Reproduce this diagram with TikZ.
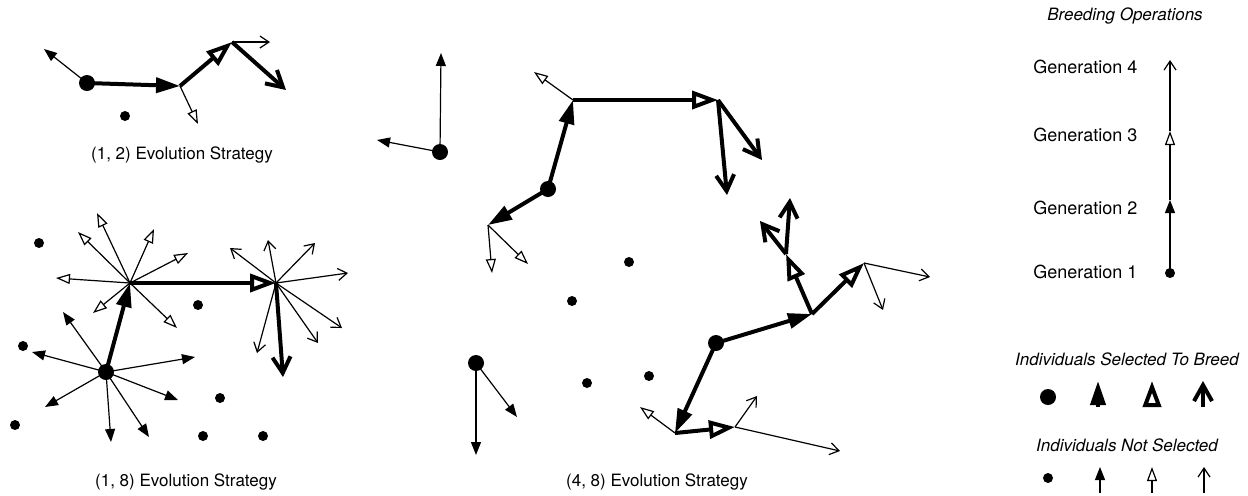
\documentclass[tikz,border=0pt]{standalone}
\usepackage{fontspec}
\setmainfont{TeX Gyre Heros}
\usetikzlibrary{arrows.meta}

\begin{document}
\begin{tikzpicture}[x=0.5pt,y=-0.5pt,%%
  thinFill/.style={-{Triangle[length=6.5pt,width=5pt]},line width=0.6pt},%%
  thinOpen/.style={-{Triangle[open,length=7pt,width=5pt]},line width=0.6pt},%%
  thinBarb/.style={-{Straight Barb[length=4.5pt,width=6pt]},line width=0.6pt},%%
  thickFill/.style={-{Triangle[length=12pt,width=7.5pt]},line width=2pt},%%
  thickOpen/.style={-{Triangle[open,length=13pt,width=9pt]},line width=2pt},%%
  thickBarb/.style={-{Straight Barb[length=8pt,width=9pt]},line width=2pt},%%
  labelStyle/.style={font=\fontsize{8.5}{10}\selectfont},%%
  genStyle/.style={font=\fontsize{9}{11}\selectfont,inner sep=0pt,anchor=west},%%
  titleStyle/.style={font=\fontsize{8.5}{10}\selectfont\itshape}%%
]
%%
\pgfmathsetmacro{\rbig}{8}   %% radius of a selected individual
\pgfmathsetmacro{\rsmall}{5} %% radius of an individual not selected
%%
\useasboundingbox (0,0) rectangle (1248,495);
%%
%% The (1, 2) evolution strategy.
\coordinate (aOne) at (87,83);
\coordinate (aTwo) at (180,86);
\coordinate (aThree) at (232,42);
\coordinate (aLost) at (44,49);
\coordinate (aOpen) at (198,124);
\coordinate (aBarb) at (270,42);
\coordinate (aEnd) at (286,90);
\draw[thinFill] (aOne) -- (aLost);
\draw[thickFill] (aOne) -- (aTwo);
\draw[thinOpen] (aTwo) -- (aOpen);
\draw[thickOpen] (aTwo) -- (aThree);
\draw[thinBarb] (aThree) -- (aBarb);
\draw[thickBarb] (aThree) -- (aEnd);
\fill (aOne) circle[radius=\rbig];
\fill (125,116) circle[radius=\rsmall];
\node[labelStyle] (aLabel) at (182,155) {(1, 2) Evolution Strategy};
%%
%% The (1, 8) evolution strategy.
\coordinate (bOne) at (106,372);
\coordinate (bTwo) at (130,283);
\coordinate (bThree) at (276,283);
\coordinate (bEnd) at (283,377);
%% Children of generation 1.
\foreach \p [count=\i] in {(63,312),(32,352),(195,357),(178,400),(45,407),(111,442),(149,437)}
  {\path \p coordinate (bf\i); \draw[thinFill] (bOne) -- (bf\i);}
%% Children of generation 2.
\foreach \p [count=\i] in {(97,213),(78,232),(154,229),(188,253),(56,278),(93,313),(177,328)}
  {\path \p coordinate (bo\i); \draw[thinOpen] (bTwo) -- (bo\i);}
%% Children of generation 3.
\foreach \p [count=\i] in {(230,248),(268,240),(315,243),(348,273),(342,328),(318,343),(257,353)}
  {\path \p coordinate (bb\i); \draw[thinBarb] (bThree) -- (bb\i);}
\draw[thickFill] (bOne) -- (bTwo);
\draw[thickOpen] (bTwo) -- (bThree);
\draw[thickBarb] (bThree) -- (bEnd);
\fill (bOne) circle[radius=\rbig];
\foreach \p in {(39,243),(23,346),(15,425),(198,305),(220,398),(203,436),(263,436)}
  \fill \p circle[radius=\rsmall];
\node[labelStyle] (bLabel) at (186,482) {(1, 8) Evolution Strategy};
%%
%% The (4, 8) evolution strategy.
%% First parent, with no selected children.
\coordinate (cOne) at (440,152);
\coordinate (cUp) at (441,53);
\coordinate (cLeft) at (377,140);
\draw[thinFill] (cOne) -- (cUp);
\draw[thinFill] (cOne) -- (cLeft);
\fill (cOne) circle[radius=\rbig];
%% Second parent.
\coordinate (dOne) at (548,189);
\coordinate (dTwo) at (573,100);
\coordinate (dSide) at (488,225);
\coordinate (dThree) at (718,100);
\coordinate (dOpen) at (534,72);
\coordinate (dEndA) at (727,195);
\coordinate (dEndB) at (762,160);
\coordinate (dOpenA) at (492,273);
\coordinate (dOpenB) at (528,264);
\draw[thinOpen] (dTwo) -- (dOpen);
\draw[thinOpen] (dSide) -- (dOpenA);
\draw[thinOpen] (dSide) -- (dOpenB);
\draw[thickFill] (dOne) -- (dTwo);
\draw[thickFill] (dOne) -- (dSide);
\draw[thickOpen] (dTwo) -- (dThree);
\draw[thickBarb] (dThree) -- (dEndA);
\draw[thickBarb] (dThree) -- (dEndB);
\fill (dOne) circle[radius=\rbig];
%% Third parent, with no selected children.
\coordinate (eOne) at (476,363);
\coordinate (eDown) at (476,455);
\coordinate (eSide) at (517,417);
\draw[thinFill] (eOne) -- (eDown);
\draw[thinFill] (eOne) -- (eSide);
\fill (eOne) circle[radius=\rbig];
%% Fourth parent.
\coordinate (fOne) at (716,343);
\coordinate (fTwo) at (812,314);
\coordinate (fSide) at (675,433);
\coordinate (fThree) at (786,254);
\coordinate (fFour) at (864,263);
\coordinate (fLow) at (735,427);
\coordinate (fOpen) at (640,407);
\coordinate (fBarbA) at (757,396);
\coordinate (fBarbB) at (840,451);
\coordinate (fEndA) at (760,221);
\coordinate (fEndB) at (790,198);
\coordinate (fBarbC) at (930,277);
\coordinate (fBarbD) at (883,310);
\draw[thinOpen] (fSide) -- (fOpen);
\draw[thinBarb] (fLow) -- (fBarbA);
\draw[thinBarb] (fLow) -- (fBarbB);
\draw[thinBarb] (fFour) -- (fBarbC);
\draw[thinBarb] (fFour) -- (fBarbD);
\draw[thickFill] (fOne) -- (fTwo);
\draw[thickFill] (fOne) -- (fSide);
\draw[thickOpen] (fSide) -- (fLow);
\draw[thickOpen] (fTwo) -- (fThree);
\draw[thickOpen] (fTwo) -- (fFour);
\draw[thickBarb] (fThree) -- (fEndA);
\draw[thickBarb] (fThree) -- (fEndB);
\fill (fOne) circle[radius=\rbig];
%% Individuals not selected.
\foreach \p in {(629,262),(572,301),(587,383),(649,376)}
  \fill \p circle[radius=\rsmall];
\node[labelStyle] (cLabel) at (657,482) {(4, 8) Evolution Strategy};
%%
%% The legend: breeding operations.
\node[titleStyle] (opTitle) at (1125,16) {Breeding Operations};
\foreach \g/\y in {4/67,3/135,2/208,1/272}
  \node[genStyle] (gen\g) at (1033,\y) {Generation \g};
\coordinate (gOne) at (1170,273);
\coordinate (gTwo) at (1170,200);
\coordinate (gThree) at (1170,131);
\coordinate (gFour) at (1170,60);
\draw[thinFill] (gOne) -- (gTwo);
\draw[thinOpen] (gTwo) -- (gThree);
\draw[thinBarb] (gThree) -- (gFour);
\fill (gOne) circle[radius=\rsmall];
%%
%% The legend: selected and not selected.
\node[titleStyle] (selTitle) at (1127,359) {Individuals Selected To Breed};
\fill (1048,397) circle[radius=\rbig];
\draw[thickFill] (1098,407) coordinate (sa) -- (1098,381) coordinate (sb);
\draw[thickOpen] (1152,407) coordinate (sc) -- (1152,381) coordinate (sd);
\draw[thickBarb] (1203,407) coordinate (se) -- (1203,381) coordinate (sf);
\node[titleStyle] (notTitle) at (1127,445) {Individuals Not Selected};
\fill (1048,478) circle[radius=\rsmall];
\draw[thinFill] (1100,493) coordinate (na) -- (1100,467) coordinate (nb);
\draw[thinOpen] (1152,493) coordinate (nc) -- (1152,467) coordinate (nd);
\draw[thinBarb] (1204,493) coordinate (ne) -- (1204,467) coordinate (nf);
\end{tikzpicture}
\end{document}
